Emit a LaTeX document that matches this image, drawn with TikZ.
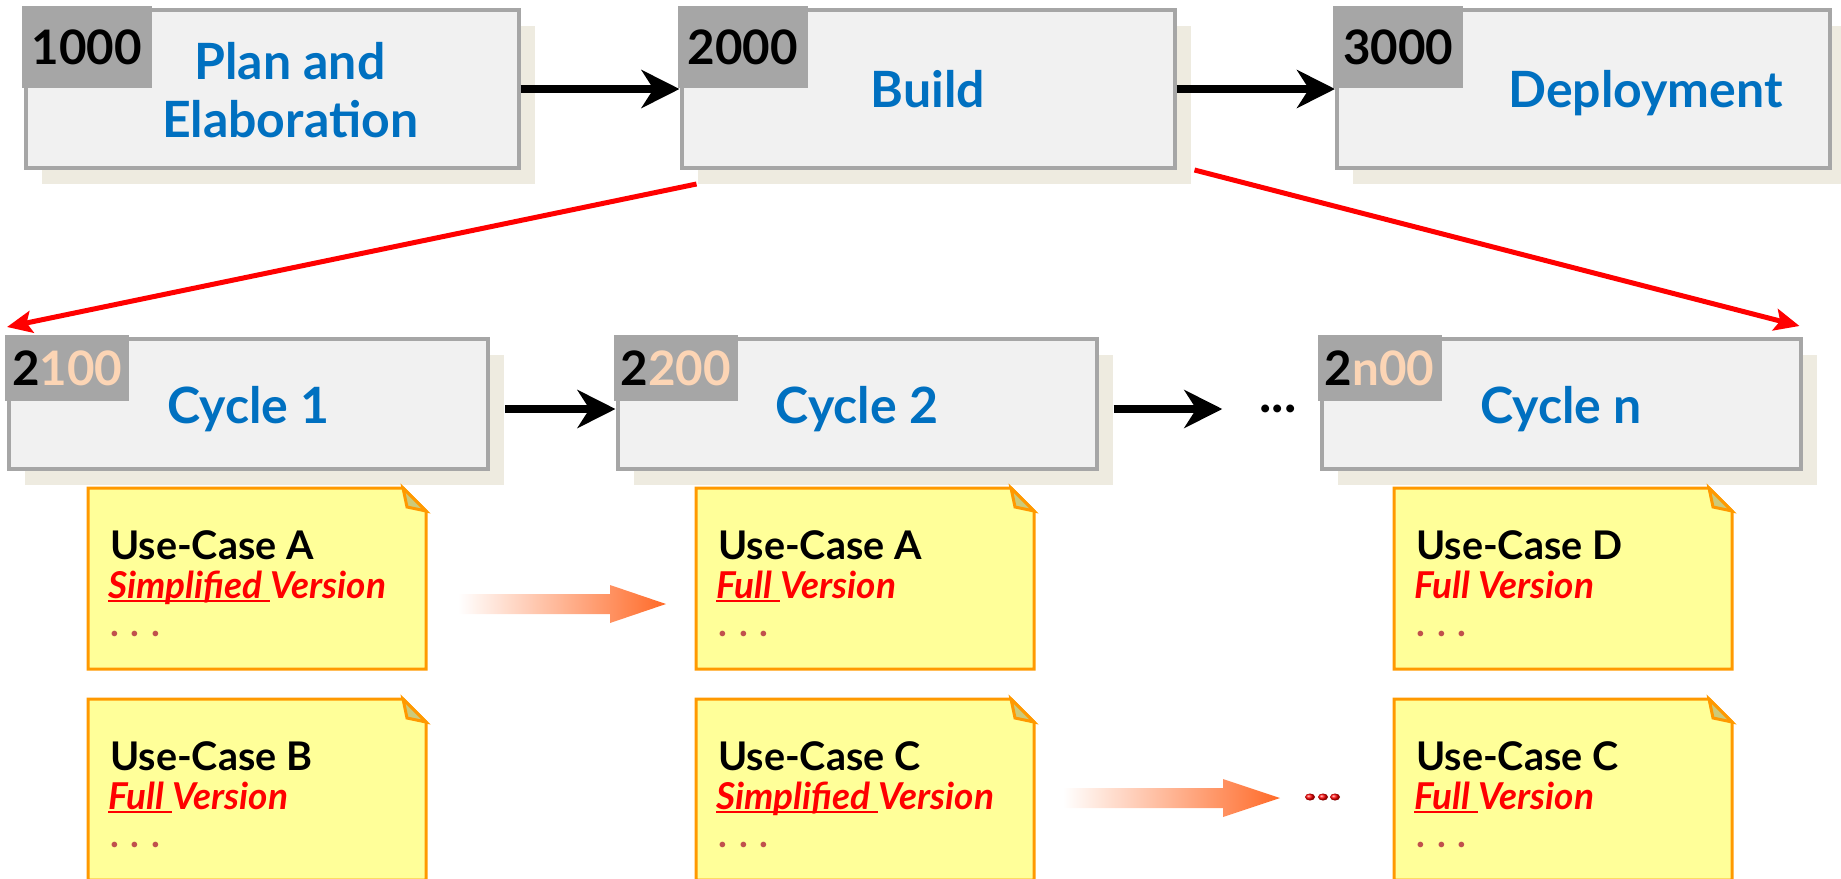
\documentclass[tikz,border=0pt]{standalone}
\usepackage{fontspec}
\setmainfont{Lato}
\usetikzlibrary{arrows.meta,shadows}

\definecolor{boxfill}{HTML}{F1F1F1}
\definecolor{boxline}{HTML}{A6A6A6}
\definecolor{tabgray}{HTML}{A6A6A6}
\definecolor{shadowc}{HTML}{EEEBE0}
\definecolor{titleblue}{HTML}{0070C0}
\definecolor{peach}{HTML}{FCD5B5}
\definecolor{notefill}{HTML}{FFFF99}
\definecolor{noteline}{HTML}{FF9900}
\definecolor{foldc}{HTML}{CCCA7A}
\definecolor{dotc}{HTML}{C0504D}
\definecolor{fadeorange}{HTML}{FF6A28}

% underline the first word, line runs through the descenders
\newcommand\uline[1]{\leavevmode\setbox0\hbox{#1}\rlap{\rule[-4pt]{\wd0}{2.5pt}}\box0}

% one use-case note: name, top left corner, title, version line
\newcommand\ucnote[4]{%
  \coordinate (#1) at #2;
  \draw[notebox] (#1) -- ++(315,0) -- ++(23,23) -- ++(0,158) -- ++(-338,0) -- cycle;
  \draw[notefold] ([shift={(315,0)}]#1) -- ++(4,19) -- ++(19,4) -- cycle;
  \node[uctitle] (#1t) at ([shift={(22,71)}]#1) {#3};
  \node[ucversion] (#1v) at ([shift={(20,110)}]#1) {#4};
  \node[ucdots] (#1d) at ([shift={(22,148)}]#1) {. . .};
}

\begin{document}
\begin{tikzpicture}[x=1pt,y=-1pt,line join=miter]
\tikzset{
  phasebox/.style={draw=boxline, line width=4pt, fill=boxfill, inner sep=0pt,
    minimum width=493pt, minimum height=158pt,
    drop shadow={shadow xshift=16pt, shadow yshift=-16pt, fill=shadowc, opacity=1}},
  cyclebox/.style={phasebox, minimum width=479pt, minimum height=130pt},
  numtab/.style={fill=tabgray, inner sep=0pt, anchor=north west,
    minimum width=130pt, minimum height=82pt, font=\fontsize{47.5}{47.5}\selectfont\bfseries},
  cyctab/.style={numtab, minimum width=124pt, minimum height=66pt},
  phasetitle/.style={text=titleblue, inner sep=0pt, align=center,
    font=\fontsize{50}{58}\selectfont\bfseries},
  flowarrow/.style={line width=8pt, -{Stealth[length=38pt,width=38pt,inset=12pt]}},
  redarrow/.style={red, line width=5pt, -{Stealth[length=25pt,width=22pt,inset=5pt]}},
  notebox/.style={fill=notefill, draw=noteline, line width=3pt},
  notefold/.style={fill=foldc, draw=noteline, line width=3pt},
  uctitle/.style={anchor=base west, inner sep=0pt, font=\fontsize{39.5}{40}\selectfont\bfseries},
  ucversion/.style={anchor=base west, inner sep=0pt, text=red,
    font=\fontsize{37}{37}\selectfont\bfseries\itshape},
  ucdots/.style={anchor=base west, inner sep=0pt, text=dotc, font=\fontsize{37}{37}\selectfont\bfseries},
}
\useasboundingbox (0,0) rectangle (1841,878);
\clip (0,0) rectangle (1841,878);

% phases
\node[phasebox] (p1) at (272,89) {};
\node[phasebox] (p2) at (928,89) {};
\node[phasebox] (p3) at (1583.5,89) {};
\node[numtab] (p1n) at ([shift={(-2pt,2pt)}]p1.north west) {1000};
\node[numtab] (p2n) at ([shift={(-2pt,2pt)}]p2.north west) {2000};
\node[numtab] (p3n) at ([shift={(-2pt,2pt)}]p3.north west) {3000};
\node[phasetitle] (t1) at ([shift={(18pt,-1pt)}]p1.center) {Plan and\\Elaboration};
\node[phasetitle, anchor=base] (t2) at ([yshift=-18pt]p2.center) {Build};
\node[phasetitle, anchor=base] (t3) at ([shift={(62pt,-18pt)}]p3.center) {Deployment};
\draw[flowarrow] (p1.east) -- (p2.west);
\draw[flowarrow] (p2.east) -- (p3.west);

% cycles of the build phase
\node[cyclebox] (c1) at (248.5,404) {};
\node[cyclebox] (c2) at (857,404) {};
\node[cyclebox] (cn) at (1561,404) {};
\node[cyctab] (c1n) at ([shift={(-2pt,2pt)}]c1.north west) {2\textcolor{peach}{100}};
\node[cyctab] (c2n) at ([shift={(-2pt,2pt)}]c2.north west) {2\textcolor{peach}{200}};
\node[cyctab] (cnn) at ([shift={(-2pt,2pt)}]cn.north west) {2\textcolor{peach}{n00}};
\node[phasetitle, anchor=base] (ct1) at ([yshift=-19pt]c1.center) {Cycle 1};
\node[phasetitle, anchor=base] (ct2) at ([yshift=-19pt]c2.center) {Cycle 2};
\node[phasetitle, anchor=base] (ctn) at ([yshift=-19pt]cn.center) {Cycle n};
\node[inner sep=0pt, font=\fontsize{52}{52}\selectfont\bfseries] (cdots) at (1278,409) {...};
\draw[flowarrow] ([shift={(15pt,-5pt)}]c1.east) -- ([yshift=-5pt]c2.west);
\draw[flowarrow] ([shift={(15pt,-5pt)}]c2.east) -- ([xshift=-37pt]cdots.west);

\draw[redarrow] ([shift={(17pt,-14pt)}]p2.south west) -- ([yshift=10pt]c1.north west);
\draw[redarrow] ([xshift=18pt]p2.south east) -- ([shift={(-3pt,11pt)}]cn.north east);

% use-case notes
\ucnote{n11}{(88,488)}{Use-Case A}{\uline{Simplified\ }Version}
\ucnote{n12}{(88,699)}{Use-Case B}{\uline{Full\ }Version}
\ucnote{n21}{(696,488)}{Use-Case A}{\uline{Full\ }Version}
\ucnote{n22}{(696,699)}{Use-Case C}{\uline{Simplified\ }Version}
\ucnote{n31}{(1394,488)}{Use-Case D}{Full Version}
\ucnote{n32}{(1394,699)}{Use-Case C}{\uline{Full\ }Version}

\foreach \xa/\xb/\xc/\ym in {458/610/666/604, 1063/1223/1280/798}
  \shade[left color=white, right color=fadeorange] (\xa,\ym-10) -- (\xb,\ym-10) -- (\xb,\ym-19)
    -- (\xc,\ym) -- (\xb,\ym+19) -- (\xb,\ym+10) -- (\xa,\ym+10) -- cycle;
\foreach \x in {1310,1323,1335}
  \shade[ball color=red] (\x,797) ellipse (5 and 3.5);
\end{tikzpicture}
\end{document}
